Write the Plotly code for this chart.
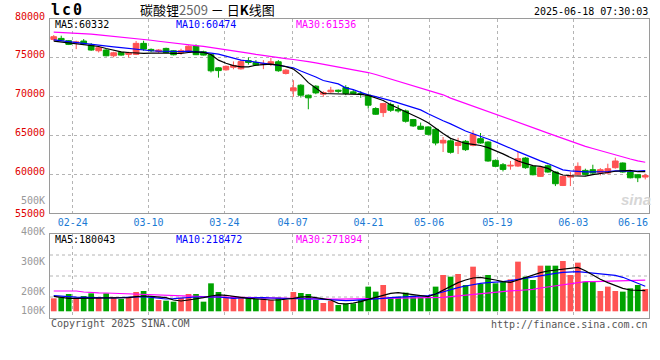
import plotly.graph_objects as go

# ---------------- data ----------------
TICK_IDX = [3, 13, 23, 32, 42, 50, 59, 69]
TICK_LABELS = ["02-24", "03-10", "03-24", "04-07", "04-21", "05-06", "05-19", "06-03"]
LAST_LABEL = "06-16"

OPEN = [77370, 77500, 77200, 76900, 77160, 76640, 75910, 76000, 75260, 75690,
        75440, 75440, 76860, 76080, 75820, 76210, 75910, 75690, 75780, 76510,
        75780, 75400, 73710, 73450, 73780, 73580, 74640, 74400, 74140, 74190,
        74490, 72980, 70740, 71470, 70180, 71340, 70310, 70610, 70826, 71170,
        70610, 70400, 70180, 68460, 67940, 68980, 68330, 68160, 67040, 66180,
        66090, 65790, 64020, 64300, 63700, 64240, 63720, 64580, 64150, 61780,
        61220, 61050, 61050, 62080, 61010, 59720, 61090, 60280, 58550, 59630,
        59930, 60490, 60580, 60190, 60150, 60840, 61440, 60280, 59930, 59630]
HIGH = [77930, 77850, 77290, 77200, 77420, 76900, 76510, 76120, 75780, 75780,
        75780, 77160, 77200, 76210, 76120, 76300, 76000, 76170, 76600, 76730,
        75910, 75500, 73800, 74000, 74530, 74770, 75050, 74700, 74700, 75000,
        74700, 73540, 72120, 71600, 70270, 71470, 70700, 71260, 70910, 71470,
        70910, 70700, 70310, 68630, 69190, 69230, 68890, 68330, 67120, 66650,
        66180, 65960, 64800, 64500, 64700, 64400, 65660, 65310, 64240, 61900,
        61440, 61700, 62860, 62200, 61100, 60900, 61220, 60360, 59800, 60280,
        61520, 60710, 61220, 60790, 61350, 62130, 61520, 60360, 60000, 60060]
LOW = [77200, 77200, 76640, 76120, 76640, 75900, 75690, 75180, 75050, 75260,
       75050, 75350, 75910, 75740, 75650, 75610, 75310, 75390, 75690, 75350,
       75300, 73110, 72440, 73350, 73520, 73480, 74120, 73970, 73540, 73930,
       73200, 72850, 69970, 69880, 68370, 70310, 69970, 70480, 70480, 70180,
       70310, 69840, 68460, 67640, 67380, 68030, 67940, 66650, 66090, 65700,
       65010, 63720, 62860, 62650, 62600, 63000, 63590, 63940, 61610, 60900,
       60360, 60580, 60920, 60700, 59850, 59650, 60190, 58470, 58470, 58470,
       59840, 59840, 59970, 59840, 59970, 60710, 60190, 59460, 58980, 59330]
CLOSE = [77720, 77290, 76730, 77030, 76770, 76000, 76300, 75260, 75650, 75350,
         75650, 76860, 76120, 75910, 76000, 75690, 75390, 75910, 76500, 75400,
         75350, 73325, 73350, 73900, 74010, 74510, 74400, 74060, 74270, 74490,
         73330, 73410, 71130, 70180, 69840, 70480, 70525, 70826, 70700, 70400,
         70400, 70270, 68890, 67730, 69100, 68240, 68160, 66820, 66220, 65790,
         65140, 64020, 64370, 62820, 64100, 63160, 65140, 64020, 61700, 61010,
         60620, 61140, 62000, 60840, 59930, 60840, 60280, 58770, 59720, 59840,
         61010, 59970, 60150, 60580, 60710, 61700, 60280, 59540, 59540, 59840]
VOLUME = [112800, 121500, 150500, 112800, 133100, 156300, 121500, 156300, 121500, 107000,
          118600, 168000, 176700, 118600, 98300, 92500, 83800, 118600, 150500, 150500,
          83800, 243300, 168000, 127300, 133100, 121500, 121500, 107000, 112800, 98300,
          118600, 98300, 168000, 159200, 150500, 98300, 72200, 89700, 54800, 69300,
          69300, 98300, 214600, 171000, 228900, 118600, 127300, 162100, 136000, 127300,
          121500, 214600, 315900, 301400, 324600, 228900, 388400, 237500, 315900, 243300,
          257800, 278100, 432000, 301400, 272300, 397100, 397100, 397100, 437800, 315900,
          423300, 257800, 257800, 176700, 214600, 176700, 171000, 199900, 228900, 194100]

MA5 = [77150, 77040, 76920, 76800, 76690, 76580, 76460, 76200, 75980, 75770,
       75680, 75590, 75580, 75610, 75650, 75620, 75580, 75580, 75680, 75760,
       75700, 75420, 74700, 74290, 73990, 73840, 73840, 74040, 74120, 74190,
       74050, 73860, 73560, 72800, 71800, 71060, 70400, 70370, 70350, 70350,
       70350, 70280, 70150, 69850, 69500, 68950, 68520, 68100, 67650, 67150,
       66620, 65900, 65250, 64620, 64250, 63960, 63850, 63700, 63430, 63050,
       62620, 62150, 61700, 61400, 61100, 61000, 60750, 60230, 59900, 59800,
       59750, 59760, 59950, 60130, 60220, 60380, 60470, 60490, 60320, 60332]
MA10 = [77310, 77190, 77070, 76960, 76850, 76740, 76630, 76520, 76420, 76320,
        76200, 76060, 75960, 75910, 75860, 75820, 75780, 75810, 75850, 75790,
        75720, 75610, 75480, 75230, 74940, 74710, 74590, 74420, 74280, 74160,
        74040, 73880, 73720, 73300, 72930, 72520, 72070, 71830, 71640, 71130,
        70900, 70550, 70220, 70000, 69770, 69490, 69200, 68900, 68600, 68290,
        67800, 67300, 66880, 66480, 66020, 65560, 65210, 64900, 64540, 64170,
        63800, 63340, 62910, 62500, 62060, 61720, 61370, 60940, 60560, 60420,
        60320, 60300, 60290, 60300, 60350, 60420, 60400, 60360, 60400, 60474]
MA30 = [78310, 78270, 78230, 78190, 78140, 78050, 77960, 77870, 77780, 77700,
        77600, 77480, 77380, 77260, 77130, 77000, 76870, 76760, 76650, 76560,
        76460, 76330, 76180, 76010, 75870, 75740, 75600, 75440, 75290, 75120,
        74980, 74890, 74780, 74680, 74510, 74350, 74180, 74030, 73860, 73680,
        73490, 73290, 73100, 72850, 72570, 72270, 71990, 71700, 71410, 71120,
        70830, 70540, 70230, 69810, 69470, 69130, 68780, 68450, 68130, 67770,
        67400, 67050, 66700, 66350, 66010, 65650, 65300, 64950, 64610, 64260,
        63930, 63590, 63310, 63020, 62740, 62450, 62210, 61960, 61720, 61536]

VMA5 = [130200, 121500, 112800, 112800, 112800, 112800, 112800, 112800, 112800, 112800,
        118600, 127300, 133100, 130200, 124400, 118600, 98300, 89600, 98300, 107000,
        118600, 133100, 142600, 139400, 133100, 121500, 112800, 107000, 101200, 98300,
        98300, 104100, 112800, 124400, 127300, 118600, 110000, 98300, 69300, 63500,
        72200, 83800, 104100, 121500, 142000, 156300, 162100, 153400, 142000, 130200,
        127300, 150500, 185300, 217300, 249200, 272300, 289700, 295500, 286800, 272300,
        257800, 252000, 272300, 295500, 315800, 336100, 350600, 359300, 370900, 379600,
        382500, 353500, 315800, 278100, 249200, 223100, 199900, 185400, 182500, 180043]
VMA10 = [136000, 130000, 127000, 124000, 121500, 118600, 115700, 112800, 115700, 118600,
         121500, 124400, 127300, 121500, 112800, 107000, 110000, 115700, 121500, 124400,
         124400, 127300, 124400, 118600, 112800, 115700, 118600, 121500, 118600, 115700,
         112800, 110000, 107000, 107000, 107000, 107000, 104000, 98300, 92500, 92500,
         95400, 98300, 104000, 107000, 112800, 118600, 121500, 124400, 127300, 130200,
         136000, 150500, 171000, 191300, 205800, 220400, 234900, 243600, 249400, 252300,
         258100, 266800, 278400, 287100, 295800, 307400, 321900, 330600, 339300, 342200,
         345100, 339300, 333500, 327700, 321900, 313200, 295800, 272600, 243600, 218472]
VMA30 = [176700, 176700, 176700, 176700, 168000, 162000, 160600, 159200, 156300, 153400,
         152000, 150500, 147600, 144700, 141800, 136000, 134600, 133100, 130200, 127300,
         127300, 125900, 124400, 123000, 121500, 120000, 118600, 115700, 112800, 111400,
         109900, 108500, 107000, 107000, 107000, 106000, 106000, 106000, 106000, 107000,
         107000, 108000, 109000, 110000, 111000, 111000, 112000, 113000, 114000, 116000,
         118000, 120000, 122000, 128000, 135000, 141000, 147000, 152000, 159000, 166000,
         172000, 178000, 181000, 184000, 190000, 203000, 213000, 221000, 230000, 241000,
         252000, 258000, 259000, 260000, 261000, 263000, 265000, 267000, 269000, 271894]

PRICE_LABELS = [80000, 75000, 70000, 65000, 60000, 55000]
VOL_LABELS = ["500K", "400K", "300K", "200K", "100K"]
LEGEND_MAIN = ["MA5:60332", "MA10:60474", "MA30:61536"]
LEGEND_VOL = ["MA5:180043", "MA10:218472", "MA30:271894"]

# ---------------- layout constants ----------------
W, H = 660, 360
L, R = 50, 11
MONO = "DejaVu Sans Mono"
RED, GREEN = "#ff5353", "#00a300"
GRID = "#b4b4b4"
BORDER = "#9a9a9a"
N = len(CLOSE)
X = list(range(N))


def px_x(px):
    return (px - L) / (W - L - R)


def px_y(py):
    return 1 - py / H


# Sina draws its vertical grid at i*width/(N-1), candles at (i+0.5)*width/N
grid_pos = [i * N / (N - 1) - 0.5 for i in TICK_IDX]

fig = go.Figure()

fig.add_trace(go.Candlestick(
    x=X, open=OPEN, high=HIGH, low=LOW, close=CLOSE,
    increasing=dict(line=dict(color=RED, width=1), fillcolor=RED),
    decreasing=dict(line=dict(color=GREEN, width=1), fillcolor=GREEN),
    whiskerwidth=0, xaxis="x", yaxis="y", hoverinfo="skip"))

for vals, col in ((MA30, "#ff00ff"), (MA10, "#0000ff"), (MA5, "#000000")):
    fig.add_trace(go.Scatter(x=X, y=vals, mode="lines", line=dict(color=col, width=1.2),
                             xaxis="x", yaxis="y", hoverinfo="skip"))

bar_colors = [RED if c >= o else GREEN for o, c in zip(OPEN, CLOSE)]
fig.add_trace(go.Bar(x=X, y=VOLUME, marker=dict(color=bar_colors, line=dict(width=0)),
                     width=0.76, xaxis="x2", yaxis="y2", hoverinfo="skip"))
for vals, col in ((VMA30, "#ff00ff"), (VMA10, "#0000ff"), (VMA5, "#000000")):
    fig.add_trace(go.Scatter(x=X, y=vals, mode="lines", line=dict(color=col, width=1.2),
                             xaxis="x2", yaxis="y2", hoverinfo="skip"))

axis_common = dict(showline=True, linecolor=BORDER, linewidth=1, mirror=True,
                   zeroline=False, ticks="")

fig.update_layout(
    width=W, height=H, autosize=False, template="none",
    margin=dict(l=L, r=R, t=0, b=0, autoexpand=False),
    paper_bgcolor="white", plot_bgcolor="white",
    showlegend=False, boxgap=0.24, boxgroupgap=0,
    xaxis=dict(domain=[0, 1], range=[-0.5, N - 0.5], anchor="y",
               tickvals=grid_pos, ticktext=TICK_LABELS,
               tickfont=dict(family=MONO, size=10, color="#1a7ad4"),
               showgrid=True, gridcolor=GRID, griddash="dot", gridwidth=1,
               rangeslider=dict(visible=False), **axis_common),
    yaxis=dict(domain=[px_y(213), px_y(19)], range=[55000, 80000], anchor="x",
               tickvals=[60000, 65000, 70000, 75000], showticklabels=False,
               showgrid=True, gridcolor=GRID, griddash="dot", gridwidth=1, **axis_common),
    xaxis2=dict(domain=[0, 1], range=[-0.5, N - 0.5], anchor="y2", matches="x",
                tickvals=grid_pos, showticklabels=False,
                showgrid=True, gridcolor=GRID, griddash="dot", gridwidth=1, **axis_common),
    yaxis2=dict(domain=[px_y(318), px_y(234)], range=[-58300, 672500], anchor="x2",
                showticklabels=False, showgrid=False, **axis_common),
)

# horizontal dotted grid in volume panel (quarters of the panel)
for f in (0.25, 0.5, 0.75):
    fig.add_shape(type="line", xref="x2 domain", yref="y2 domain", x0=0, x1=1, y0=f, y1=f,
                  line=dict(color=GRID, width=1, dash="dot"), layer="below")

ann = []


def text(x, y, s, size=10, color="#000", xanchor="left", family=MONO, **kw):
    ann.append(dict(x=x, y=y, xref="paper", yref="paper", text=s, showarrow=False,
                    xanchor=xanchor, yanchor="middle", borderpad=0,
                    font=dict(family=family, size=size, color=color), **kw))


# header
text(px_x(50), px_y(10), "<b><span style='letter-spacing:2px'>lc0</span></b>", size=15)
text(px_x(207), px_y(9.5),
     "碳酸锂<span style='color:#666666'>2509</span> － 日<b>K</b>线图",
     size=13, xanchor="center", family="Noto Sans CJK SC")
text(px_x(649), px_y(11.5), "2025-06-18 07:30:03", xanchor="right")

# MA legends
for s, col, xp in zip(LEGEND_MAIN, ["#000000", "#0000ff", "#ff00ff"], [54, 175, 295]):
    text(px_x(xp), px_y(25), s, color=col)
for s, col, xp in zip(LEGEND_VOL, ["#000000", "#0000ff", "#ff00ff"], [54, 175, 295]):
    text(px_x(xp), px_y(239), s, color=col)

# price labels (drawn a few px above their grid line, as in the reference)
for v in PRICE_LABELS:
    ann.append(dict(x=px_x(46), y=v, xref="paper", yref="y", text=str(v), showarrow=False,
                    xanchor="right", yanchor="middle", yshift=0 if v == 55000 else 3,
                    borderpad=0, font=dict(family=MONO, size=10, color="#e00000")))

# volume labels
for s, py in zip(VOL_LABELS, [200, 231, 261, 291, 310]):
    text(px_x(46), px_y(py), s, color="#999999", xanchor="right")

# last date label (clamped to the right edge)
text(1.0, px_y(222), LAST_LABEL, color="#1a7ad4", xanchor="right")

# footer
text(px_x(50), px_y(323), "Copyright 2025 SINA.COM", color="#555555")
text(px_x(649), px_y(324), "http://finance.sina.com.cn", color="#555555", xanchor="right")

# watermark
text(px_x(636), px_y(199), "<i><b>sina</b></i>", size=15, color="#d6d6d6",
     xanchor="center", family="Liberation Sans")

fig.update_layout(annotations=ann)
fig.write_html("out.html", config={"displayModeBar": False, "staticPlot": True},
               post_script="document.body.style.margin='0px';document.body.style.overflow='hidden';")
